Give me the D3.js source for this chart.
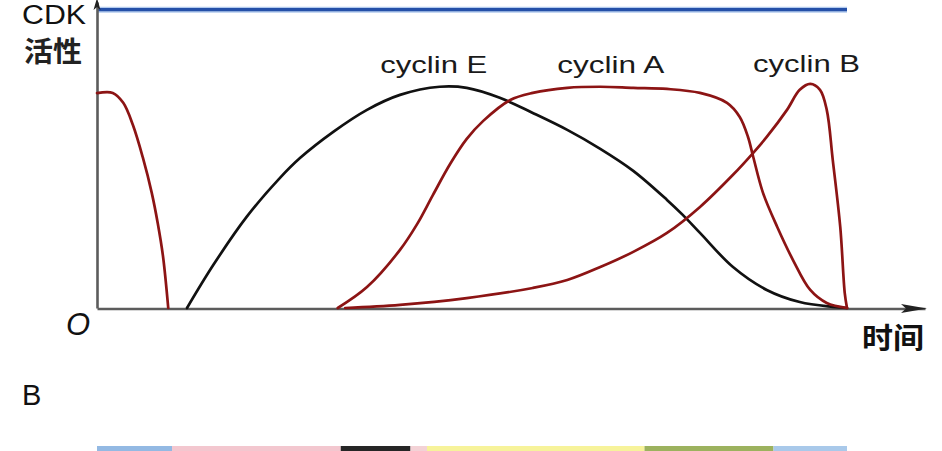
<!DOCTYPE html>
<html>
<head>
<meta charset="utf-8">
<script src="https://cdn.jsdelivr.net/npm/d3@7"></script>
<style>
  html, body { margin: 0; padding: 0; background: #fff; }
  svg { display: block; }
</style>
</head>
<body>
<svg id="chart" width="942" height="451"></svg>
<script>
// ---- data (time 0..100 = one cycle, activity 0..100 = peak) ----
const prevCyclinB = [[0,97.6],[2.1,97.7],[3.5,93.2],[4.8,83],[6.1,68.5],[7.3,52.3],[8.1,38.5],[8.8,23.5],[9.5,0]];
const cyclinE = [[12,0],[15.5,19.5],[20,41.6],[24.4,59.1],[27.1,68.2],[31.5,80],[36,90],[40.4,96.8],[45.7,100.5],[49.3,100],[53.7,95.5],[58.1,88.6],[62.7,80.9],[67.1,72.3],[71.5,62.3],[76,49.1],[78.1,42.3],[80.4,34.1],[84.8,18.6],[89.3,8.2],[93.7,2.7],[98.1,0.5],[100,0]];
const cyclinA = [[32.1,0],[36,9.5],[40.4,26.4],[42.7,38.2],[44.8,51.4],[47.1,65.5],[49.3,76.8],[51.5,85],[55.1,94.5],[58.1,97.7],[62.7,100],[67.1,100.5],[71.5,100],[76,99.5],[80.4,97.7],[84,93.2],[85.7,86.8],[86.8,77.7],[87.5,68.6],[88.8,52.3],[90.7,36.8],[92.8,21.8],[95.1,8.2],[97.3,2.3],[100,0]];
const cyclinB = [[33.1,0],[40.4,1.4],[49.3,4.5],[58.1,9.1],[62.7,12.7],[67.1,18.6],[71.5,25.5],[76,34.1],[80.4,45.9],[84.8,60.5],[87.5,70.5],[89.3,77.7],[92,90],[93.7,99.1],[95.1,101.8],[96.4,99.1],[97.3,90],[98.1,67.3],[99.1,36.8],[99.7,6.8],[100,0]];
const cdkLevel = [[0,135.5],[100,135.5]];
const curveLabels = ["cyclin E", "cyclin A", "cyclin B"];
const labelTimes = [44.9, 68.5, 94.6];
const labelLevels = [106.8, 106.8, 107.3];
const phaseBounds = [0, 10, 32.5, 41.8, 44, 73, 90.2, 100];
const phaseColors = ["#93b9e3", "#f3c7cf", "#262626", "#f3d2d6", "#f7f39a", "#9cb25e", "#a9c9ea"];

// ---- scales ----
const svg = d3.select("#chart");
svg.append("rect").attr("width", 942).attr("height", 451).attr("fill", "#fff");
const x = d3.scaleLinear().domain([0, 110.4]).range([97, 925]);
const y = d3.scaleLinear().domain([0, 139]).range([308, 2]);

const line = d3.line().x(d => x(d[0])).y(d => y(d[1])).curve(d3.curveCatmullRom.alpha(0.5));
const straight = d3.line().x(d => x(d[0])).y(d => y(d[1]));

// blue CDK line
svg.append("path").datum(cdkLevel).attr("d", straight)
  .attr("fill", "none").attr("stroke", "#b3cbee").attr("stroke-width", 6);
svg.append("path").datum(cdkLevel).attr("d", straight)
  .attr("fill", "none").attr("stroke", "#2550a8").attr("stroke-width", 3.2);

// axes
const axisColor = "#5c5c5c";
const xAxis = svg.append("g").attr("transform", `translate(0,${y(0) + 0.5})`)
  .call(d3.axisBottom(x).tickValues([]).tickSizeOuter(0));
xAxis.select(".domain").attr("stroke", axisColor).attr("stroke-width", 2.6);
const yAxis = svg.append("g").attr("transform", `translate(${x(0)},0)`)
  .call(d3.axisLeft(y).tickValues([]).tickSizeOuter(0));
yAxis.select(".domain").attr("stroke", axisColor).attr("stroke-width", 2.6);

// arrowheads
const xEnd = x(110.4), y0 = y(0) + 0.5;
svg.append("path")
  .attr("d", `M${xEnd + 2},${y0} L${xEnd - 24},${y0 - 4.5} L${xEnd - 19},${y0} L${xEnd - 24},${y0 + 4.5} Z`)
  .attr("fill", "#222");
const yTop = y(139), x0 = x(0);
svg.append("path")
  .attr("d", `M${x0},${yTop - 4} L${x0 - 3.5},${yTop + 8} L${x0},${yTop + 5} L${x0 + 3.5},${yTop + 8} Z`)
  .attr("fill", "#222");

// curves
const red = "#8c1414";
[[prevCyclinB, red], [cyclinE, "#111"], [cyclinA, red], [cyclinB, red]].forEach(([data, col]) => {
  svg.append("path").datum(data).attr("d", line)
    .attr("fill", "none").attr("stroke", col).attr("stroke-width", 2.7)
    .attr("stroke-linejoin", "round").attr("stroke-linecap", "round");
});

// curve labels
curveLabels.forEach((t, i) => {
  svg.append("text")
    .attr("x", x(labelTimes[i])).attr("y", y(labelLevels[i]))
    .attr("text-anchor", "middle")
    .attr("font-family", "Liberation Sans, Arial, sans-serif")
    .attr("font-size", 24)
    .attr("textLength", 107).attr("lengthAdjust", "spacingAndGlyphs")
    .attr("fill", "#1a1a1a")
    .text(t);
});

// axis labels
svg.append("text").attr("x", 22).attr("y", 24)
  .attr("font-family", "Liberation Sans, Arial, sans-serif").attr("font-size", 27)
  .attr("textLength", 64).attr("lengthAdjust", "spacingAndGlyphs")
  .attr("fill", "#111").text("CDK");
svg.append("text").attr("x", 24).attr("y", 62)
  .attr("font-family", "Noto Sans CJK SC, sans-serif").attr("font-size", 28).attr("font-weight", 700)
  .attr("textLength", 58).attr("lengthAdjust", "spacingAndGlyphs")
  .attr("fill", "#222").text("活性");
svg.append("text").attr("x", 66).attr("y", 335)
  .attr("font-family", "Liberation Sans, Arial, sans-serif").attr("font-size", 31).attr("font-style", "italic")
  .attr("fill", "#111").text("O");
svg.append("text").attr("x", 862).attr("y", 349)
  .attr("font-family", "Noto Sans CJK SC, sans-serif").attr("font-size", 29).attr("font-weight", 700)
  .attr("textLength", 62).attr("lengthAdjust", "spacingAndGlyphs")
  .attr("fill", "#111").text("时间");
svg.append("text").attr("x", 22).attr("y", 405)
  .attr("font-family", "Liberation Sans, Arial, sans-serif").attr("font-size", 29)
  .attr("fill", "#111").text("B");

// phase bar
const xp = d3.scaleLinear().domain([0, 100]).range([x(0), x(100)]);
svg.append("g").selectAll("rect").data(phaseColors).join("rect")
  .attr("x", (d, i) => xp(phaseBounds[i]))
  .attr("width", (d, i) => xp(phaseBounds[i + 1]) - xp(phaseBounds[i]))
  .attr("y", 446).attr("height", 6)
  .attr("fill", d => d);
</script>
</body>
</html>
